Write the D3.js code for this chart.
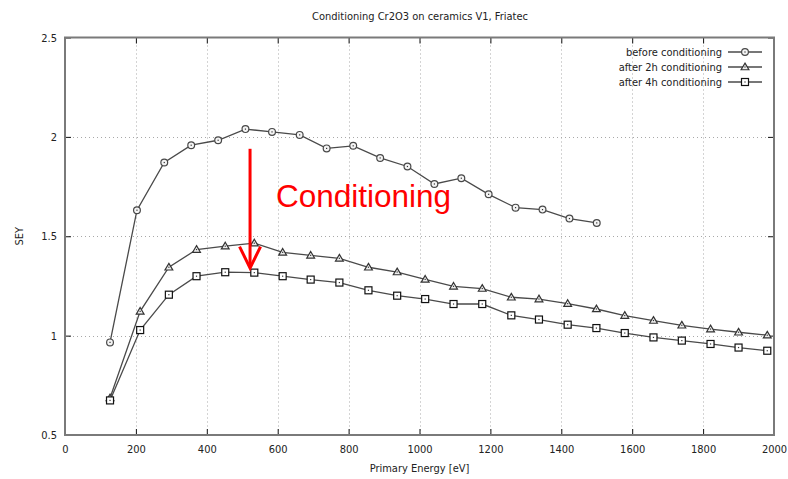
<!DOCTYPE html>
<html>
<head>
<meta charset="utf-8">
<script src="https://cdn.jsdelivr.net/npm/d3@7"></script>
<style>
  html, body { margin: 0; padding: 0; background: #fff; }
  svg { display: block; }
  text { font-family: "DejaVu Sans Condensed", "DejaVu Sans", sans-serif; fill: #222; }
</style>
</head>
<body>
<svg id="chart" width="788" height="479"></svg>
<script>
// SEY measurements vs. primary electron energy
const energyBefore = [127, 203, 280, 356, 432, 509, 584, 662, 738, 813, 889, 966, 1042, 1118, 1195, 1271, 1347, 1423, 1500];
const seyBefore    = [0.966, 1.631, 1.871, 1.958, 1.983, 2.039, 2.025, 2.010, 1.942, 1.955, 1.894, 1.851, 1.763, 1.792, 1.711, 1.644, 1.634, 1.589, 1.567];

const energyAfter  = [127, 212, 293, 371, 452, 534, 614, 693, 774, 856, 937, 1016, 1096, 1177, 1259, 1337, 1418, 1499, 1579, 1660, 1740, 1821, 1900, 1981];
const sey2h        = [0.686, 1.122, 1.344, 1.433, 1.450, 1.465, 1.419, 1.404, 1.389, 1.344, 1.320, 1.283, 1.248, 1.237, 1.193, 1.184, 1.161, 1.134, 1.101, 1.076, 1.052, 1.033, 1.017, 1.002];
const sey4h        = [0.674, 1.028, 1.206, 1.299, 1.319, 1.317, 1.299, 1.282, 1.267, 1.228, 1.201, 1.184, 1.159, 1.159, 1.102, 1.081, 1.055, 1.038, 1.013, 0.991, 0.975, 0.958, 0.940, 0.924];

const seriesNames  = ["before conditioning", "after 2h conditioning", "after 4h conditioning"];
const markerShapes = ["circle", "triangle", "square"];

const xTicks = [0, 200, 400, 600, 800, 1000, 1200, 1400, 1600, 1800, 2000];
const yTicks = [0.5, 1, 1.5, 2, 2.5];

const titleText = "Conditioning Cr2O3 on ceramics V1, Friatec";
const xLabel = "Primary Energy [eV]";
const yLabel = "SEY";
const annotationText = "Conditioning";
// annotation arrow (energy, SEY from -> to) and label anchor
const arrowEnergy = 522, arrowFrom = 1.94, arrowTo = 1.34;
const labelEnergy = 595, labelSey = 1.648;

const W = 788, H = 479;
const m = { left: 65, right: 14, top: 37.5, bottom: 44 };

const svg = d3.select("#chart");
const x = d3.scaleLinear().domain([0, 2000]).range([m.left, W - m.right]);
const y = d3.scaleLinear().domain([0.5, 2.5]).range([H - m.bottom, m.top]);

// grid
const grid = svg.append("g").attr("stroke", "#a8a8a8").attr("stroke-width", 1).attr("stroke-dasharray", "1,3");
grid.selectAll("line.v").data(xTicks.slice(1, -1)).join("line")
  .attr("x1", d => Math.round(x(d)) + 0.5).attr("x2", d => Math.round(x(d)) + 0.5)
  .attr("y1", y(2.5)).attr("y2", y(0.5));
grid.selectAll("line.h").data(yTicks.slice(1, -1)).join("line")
  .attr("x1", x(0)).attr("x2", x(2000))
  .attr("y1", d => Math.round(y(d)) + 0.5).attr("y2", d => Math.round(y(d)) + 0.5);

// axes: bottom/left with labels, top/right mirrored ticks
const axB = d3.axisBottom(x).tickValues(xTicks).tickSizeInner(-6).tickSizeOuter(0).tickPadding(10).tickFormat(d3.format("d"));
const axT = d3.axisTop(x).tickValues(xTicks).tickSizeInner(-6).tickSizeOuter(0).tickFormat("");
const axL = d3.axisLeft(y).tickValues(yTicks).tickSizeInner(-6).tickSizeOuter(0).tickPadding(8).tickFormat(d3.format("~g"));
const axR = d3.axisRight(y).tickValues(yTicks).tickSizeInner(-6).tickSizeOuter(0).tickFormat("");

function styleAxis(g) {
  g.select(".domain").remove();
  g.selectAll(".tick line").attr("stroke", "#111").attr("stroke-width", 1);
  g.selectAll(".tick text").attr("fill", "#222").style("font-size", "11px")
    .style("font-family", '"DejaVu Sans Condensed", "DejaVu Sans", sans-serif');
}
svg.append("g").attr("transform", `translate(0,${y(0.5)})`).call(axB).call(styleAxis);
svg.append("g").attr("transform", `translate(0,${y(2.5)})`).call(axT).call(styleAxis);
svg.append("g").attr("transform", `translate(${x(0)},0)`).call(axL).call(styleAxis);
svg.append("g").attr("transform", `translate(${x(2000)},0)`).call(axR).call(styleAxis);

// frame
svg.append("rect")
  .attr("x", x(0)).attr("y", y(2.5))
  .attr("width", x(2000) - x(0)).attr("height", y(0.5) - y(2.5))
  .attr("fill", "none").attr("stroke", "#7a7a7a").attr("stroke-width", 2);

// titles
svg.append("text").attr("x", 420).attr("y", 20).attr("text-anchor", "middle")
  .style("font-size", "11px").text(titleText);
svg.append("text").attr("x", (x(0) + x(2000)) / 2).attr("y", 472).attr("text-anchor", "middle")
  .style("font-size", "11px").text(xLabel);
svg.append("text").attr("transform", `translate(23,${y(1.5)}) rotate(-90)`).attr("text-anchor", "middle")
  .style("font-size", "11px").text(yLabel);

// markers
function drawMarker(g, shape, cx, cy) {
  if (shape === "circle") {
    g.append("circle").attr("cx", cx).attr("cy", cy).attr("r", 3.4)
      .attr("fill", "#f4f4f4").attr("stroke", "#484848").attr("stroke-width", 1.2);
  } else if (shape === "triangle") {
    const s = 3.9;
    g.append("path").attr("d", `M${cx},${cy - s}L${cx + s},${cy + s * 0.7}L${cx - s},${cy + s * 0.7}Z`)
      .attr("fill", "#eee").attr("stroke", "#333").attr("stroke-width", 1.2);
  } else {
    const s = 3.5;
    g.append("rect").attr("x", cx - s).attr("y", cy - s).attr("width", 2 * s).attr("height", 2 * s)
      .attr("fill", "#fff").attr("stroke", "#111").attr("stroke-width", 1.2);
  }
  g.append("rect").attr("x", cx - 0.6).attr("y", cy - 0.6).attr("width", 1.2).attr("height", 1.2).attr("fill", "#333");
}

const seriesData = [
  energyBefore.map((e, i) => [e, seyBefore[i]]),
  energyAfter.map((e, i) => [e, sey2h[i]]),
  energyAfter.map((e, i) => [e, sey4h[i]])
];

const line = d3.line().x(d => x(d[0])).y(d => y(d[1]));
seriesData.forEach((pts, k) => {
  const g = svg.append("g");
  g.append("path").attr("d", line(pts)).attr("fill", "none")
    .attr("stroke", "#4a4a4a").attr("stroke-width", 1.3);
  pts.forEach(p => drawMarker(g, markerShapes[k], x(p[0]), y(p[1])));
});

// legend
const legend = svg.append("g");
seriesNames.forEach((name, k) => {
  const ly = 52 + k * 15;
  legend.append("text").attr("x", 722).attr("y", ly + 4).attr("text-anchor", "end")
    .style("font-size", "11px").text(name);
  legend.append("line").attr("x1", 728).attr("x2", 762).attr("y1", ly).attr("y2", ly)
    .attr("stroke", "#4a4a4a").attr("stroke-width", 1.3);
  drawMarker(legend, markerShapes[k], 745, ly);
});

// annotation
const ax = x(arrowEnergy), ay0 = y(arrowFrom), ay1 = y(arrowTo);
svg.append("line").attr("x1", ax).attr("x2", ax).attr("y1", ay0).attr("y2", ay1 - 1)
  .attr("stroke", "#ff0000").attr("stroke-width", 3);
svg.append("path").attr("d", `M${ax - 10.5},${ay1 - 21.5}L${ax},${ay1}L${ax + 10.5},${ay1 - 21.5}`)
  .attr("fill", "none").attr("stroke", "#ff0000").attr("stroke-width", 3);
svg.append("text").attr("x", x(labelEnergy)).attr("y", y(labelSey))
  .style("font-family", '"Liberation Sans", Arial, sans-serif').style("font-size", "31.5px")
  .attr("fill", "#ff0000").style("fill", "#ff0000").text(annotationText);
</script>
</body>
</html>
